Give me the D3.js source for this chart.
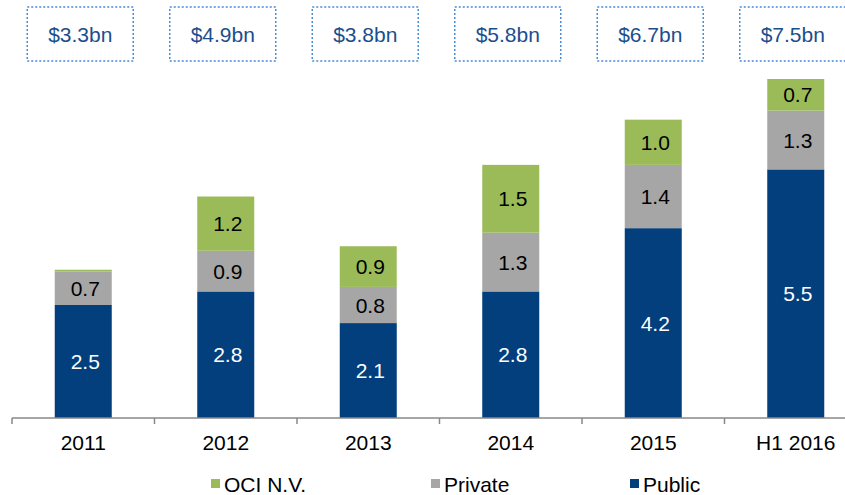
<!DOCTYPE html>
<html>
<head>
<meta charset="utf-8">
<script src="https://cdn.jsdelivr.net/npm/d3@7"></script>
<style>
  body { margin: 0; background: #fff; }
  svg { display: block; font-family: 'Liberation Sans', Arial, sans-serif; }
</style>
</head>
<body>
<script>
const width = 845
const height = 495

const categories = ['2011', '2012', '2013', '2014', '2015', 'H1 2016']
const publicVals = [2.5, 2.8, 2.1, 2.8, 4.2, 5.5]
const privateVals = [0.74, 0.9, 0.8, 1.3, 1.4, 1.3]
const ociVals = [0.04, 1.2, 0.9, 1.5, 1.0, 0.7]
const totals = ['$3.3bn', '$4.9bn', '$3.8bn', '$5.8bn', '$6.7bn', '$7.5bn']

const series = [
  { key: 'public', name: 'Public', values: publicVals, color: '#023f7c', text: '#fff' },
  { key: 'private', name: 'Private', values: privateVals, color: '#a6a6a6', text: '#000' },
  { key: 'oci', name: 'OCI N.V.', values: ociVals, color: '#9bbb59', text: '#000' }
]

const fontSize = 21
const baseline = 418
const x = d3.scaleBand()
  .domain(categories)
  .range([12, 12 + 6 * 142.5])
  .paddingInner(0.6)
  .paddingOuter(0.3)

const y = d3.scaleLinear()
  .domain([0, 8])
  .range([baseline, baseline - 8 * 45.2])

const rows = categories.map((c, i) => {
  const r = { cat: c }
  series.forEach(s => { r[s.key] = s.values[i] })
  return r
})

const stack = d3.stack().keys(series.map(s => s.key))(rows)

const svg = d3.select('body')
  .append('svg')
    .attr('width', width)
    .attr('height', height)

// bars
stack.forEach((layer, li) => {
  const s = series[li]
  const g = svg.append('g')
  g.selectAll('rect')
    .data(layer)
    .join('rect')
      .attr('x', d => x(d.data.cat))
      .attr('y', d => y(d[1]))
      .attr('width', x.bandwidth())
      .attr('height', d => y(d[0]) - y(d[1]))
      .attr('fill', s.color)
  g.selectAll('text')
    .data(layer.filter(d => d[1] - d[0] >= 0.3))
    .join('text')
      .attr('x', d => x(d.data.cat) + x.bandwidth() / 2 + 2)
      .attr('y', d => (y(d[0]) + y(d[1])) / 2)
      .attr('dy', '0.36em')
      .attr('text-anchor', 'middle')
      .attr('font-size', fontSize)
      .attr('fill', s.text)
      .text(d => (d[1] - d[0]).toFixed(1))
})

// axis
const step = x.step()
const bounds = categories.map(c => x(c) - step * 0.3)

svg.append('path')
  .attr('d', 'M' + bounds[0] + ' ' + baseline + 'H' + width)
  .attr('stroke', '#888')
  .attr('stroke-width', 1.5)
  .attr('fill', 'none')

svg.append('g')
  .selectAll('line')
  .data(bounds)
  .join('line')
    .attr('x1', d => d)
    .attr('x2', d => d)
    .attr('y1', baseline)
    .attr('y2', baseline + 6)
    .attr('stroke', '#888')
    .attr('stroke-width', 1.5)

const axis = svg.append('g')
  .attr('transform', 'translate(0,' + baseline + ')')
  .call(d3.axisBottom(x).tickSize(0).tickPadding(17))
axis.select('.domain').remove()
axis.selectAll('text')
  .attr('font-size', fontSize)
  .attr('font-family', "'Liberation Sans', Arial, sans-serif")
  .attr('fill', '#000')

// totals boxes
const boxes = svg.append('g')
  .selectAll('g')
  .data(categories)
  .join('g')
    .attr('transform', (d) => 'translate(' + (x(d) + x.bandwidth() / 2 - 3) + ',0)')

boxes.append('rect')
  .attr('x', -53)
  .attr('y', 7)
  .attr('width', 106)
  .attr('height', 54)
  .attr('fill', 'none')
  .attr('stroke', '#4a8ad6')
  .attr('stroke-width', 1.5)
  .attr('stroke-dasharray', '2 2')

boxes.append('text')
  .attr('y', 34)
  .attr('dy', '0.36em')
  .attr('text-anchor', 'middle')
  .attr('font-size', fontSize)
  .attr('fill', '#1b4e8d')
  .text((d, i) => totals[i])

// legend
const legendItems = [series[2], series[1], series[0]]
const legendX = [211, 431, 630]
const legend = svg.append('g')
  .selectAll('g')
  .data(legendItems)
  .join('g')
    .attr('transform', (d, i) => 'translate(' + legendX[i] + ',479)')

legend.append('rect')
  .attr('width', 9)
  .attr('height', 9)
  .attr('y', 0)
  .attr('fill', d => d.color)

legend.append('text')
  .attr('x', 13)
  .attr('y', 5)
  .attr('dy', '0.36em')
  .attr('font-size', fontSize)
  .attr('fill', '#000')
  .text(d => d.name)
</script>
</body>
</html>
